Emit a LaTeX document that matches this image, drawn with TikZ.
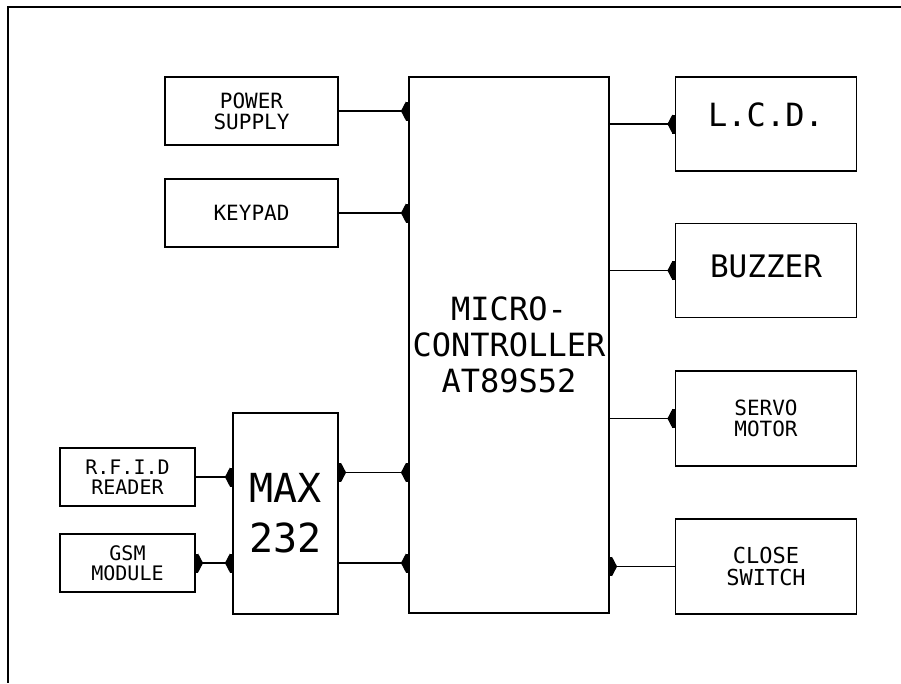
\documentclass[tikz,border=0pt]{standalone}
\usepackage{fontspec}
\setmonofont{DejaVu Sans Mono}
\usetikzlibrary{positioning,arrows.meta}

\begin{document}
\begin{tikzpicture}[
    x=1pt,y=-1pt,
    blk/.style={draw,line width=1.1pt,inner sep=0pt,align=center},
    lbl/.style={font=\ttfamily\fontsize{#1}{#1}\selectfont},
    tip/.tip={Triangle[reversed,length=5pt,width=19pt,sep=0pt]Rectangle[length=2.5pt,width=19pt]},
    arr/.style={-tip,line width=1.1pt},
    darr/.style={tip-tip,line width=1.1pt}
  ]
    \useasboundingbox (0,0) rectangle (901,683);
    \draw[line width=1.4pt] (901,7) -- (8,7) -- (8,683);

    \node[blk,minimum width=200pt,minimum height=536pt,lbl=32,text depth=0pt] (mcu) at (509,345) {MICRO-\\[4pt]CONTROLLER\\[4pt]AT89S52};

    \node[blk,minimum width=173pt,minimum height=68pt,lbl=21] (psu) at (251.5,111) {POWER\\SUPPLY};
    \node[blk,minimum width=173pt,minimum height=68pt,lbl=21] (keypad) at (251.5,213) {KEYPAD};

    \node[blk,minimum width=181pt,minimum height=94pt,lbl=32,text depth=18pt] (lcd) at (766,124) {L.C.D.};
    \node[blk,minimum width=181pt,minimum height=94pt,lbl=31,text depth=8pt] (buzzer) at (766,270.5) {BUZZER};
    \node[blk,minimum width=181pt,minimum height=95pt,lbl=21] (servo) at (766,418.5) {SERVO\\MOTOR};
    \node[blk,minimum width=181pt,minimum height=95pt,lbl=22] (close) at (766,566.5) {CLOSE\\SWITCH};

    \node[blk,minimum width=105pt,minimum height=201pt,lbl=40] (max) at (285.5,513.5) {MAX\\[10pt]232};
    \node[blk,minimum width=135pt,minimum height=58pt,lbl=20] (rfid) at (127.5,477) {R.F.I.D\\READER};
    \node[blk,minimum width=135pt,minimum height=58pt,lbl=20] (gsm) at (127.5,563) {GSM\\MODULE};

    \draw[arr] (psu.east) -- (psu.east -| mcu.west);
    \draw[arr] (keypad.east) -- (keypad.east -| mcu.west);
    \draw[arr] (lcd.west -| mcu.east) -- (lcd.west);
    \draw[arr] (buzzer.west -| mcu.east) -- (buzzer.west);
    \draw[arr] (servo.west -| mcu.east) -- (servo.west);
    \draw[arr] (close.west) -- (close.west -| mcu.east);

    \draw[darr] ([yshift=41pt]max.east) -- ([yshift=41pt]max.east -| mcu.west);
    \draw[arr] ([yshift=-49.5pt]max.east) -- ([yshift=-49.5pt]max.east -| mcu.west);
    \draw[arr] (rfid.east) -- (rfid.east -| max.west);
    \draw[darr] (gsm.east) -- (gsm.east -| max.west);
  \end{tikzpicture}
\end{document}
